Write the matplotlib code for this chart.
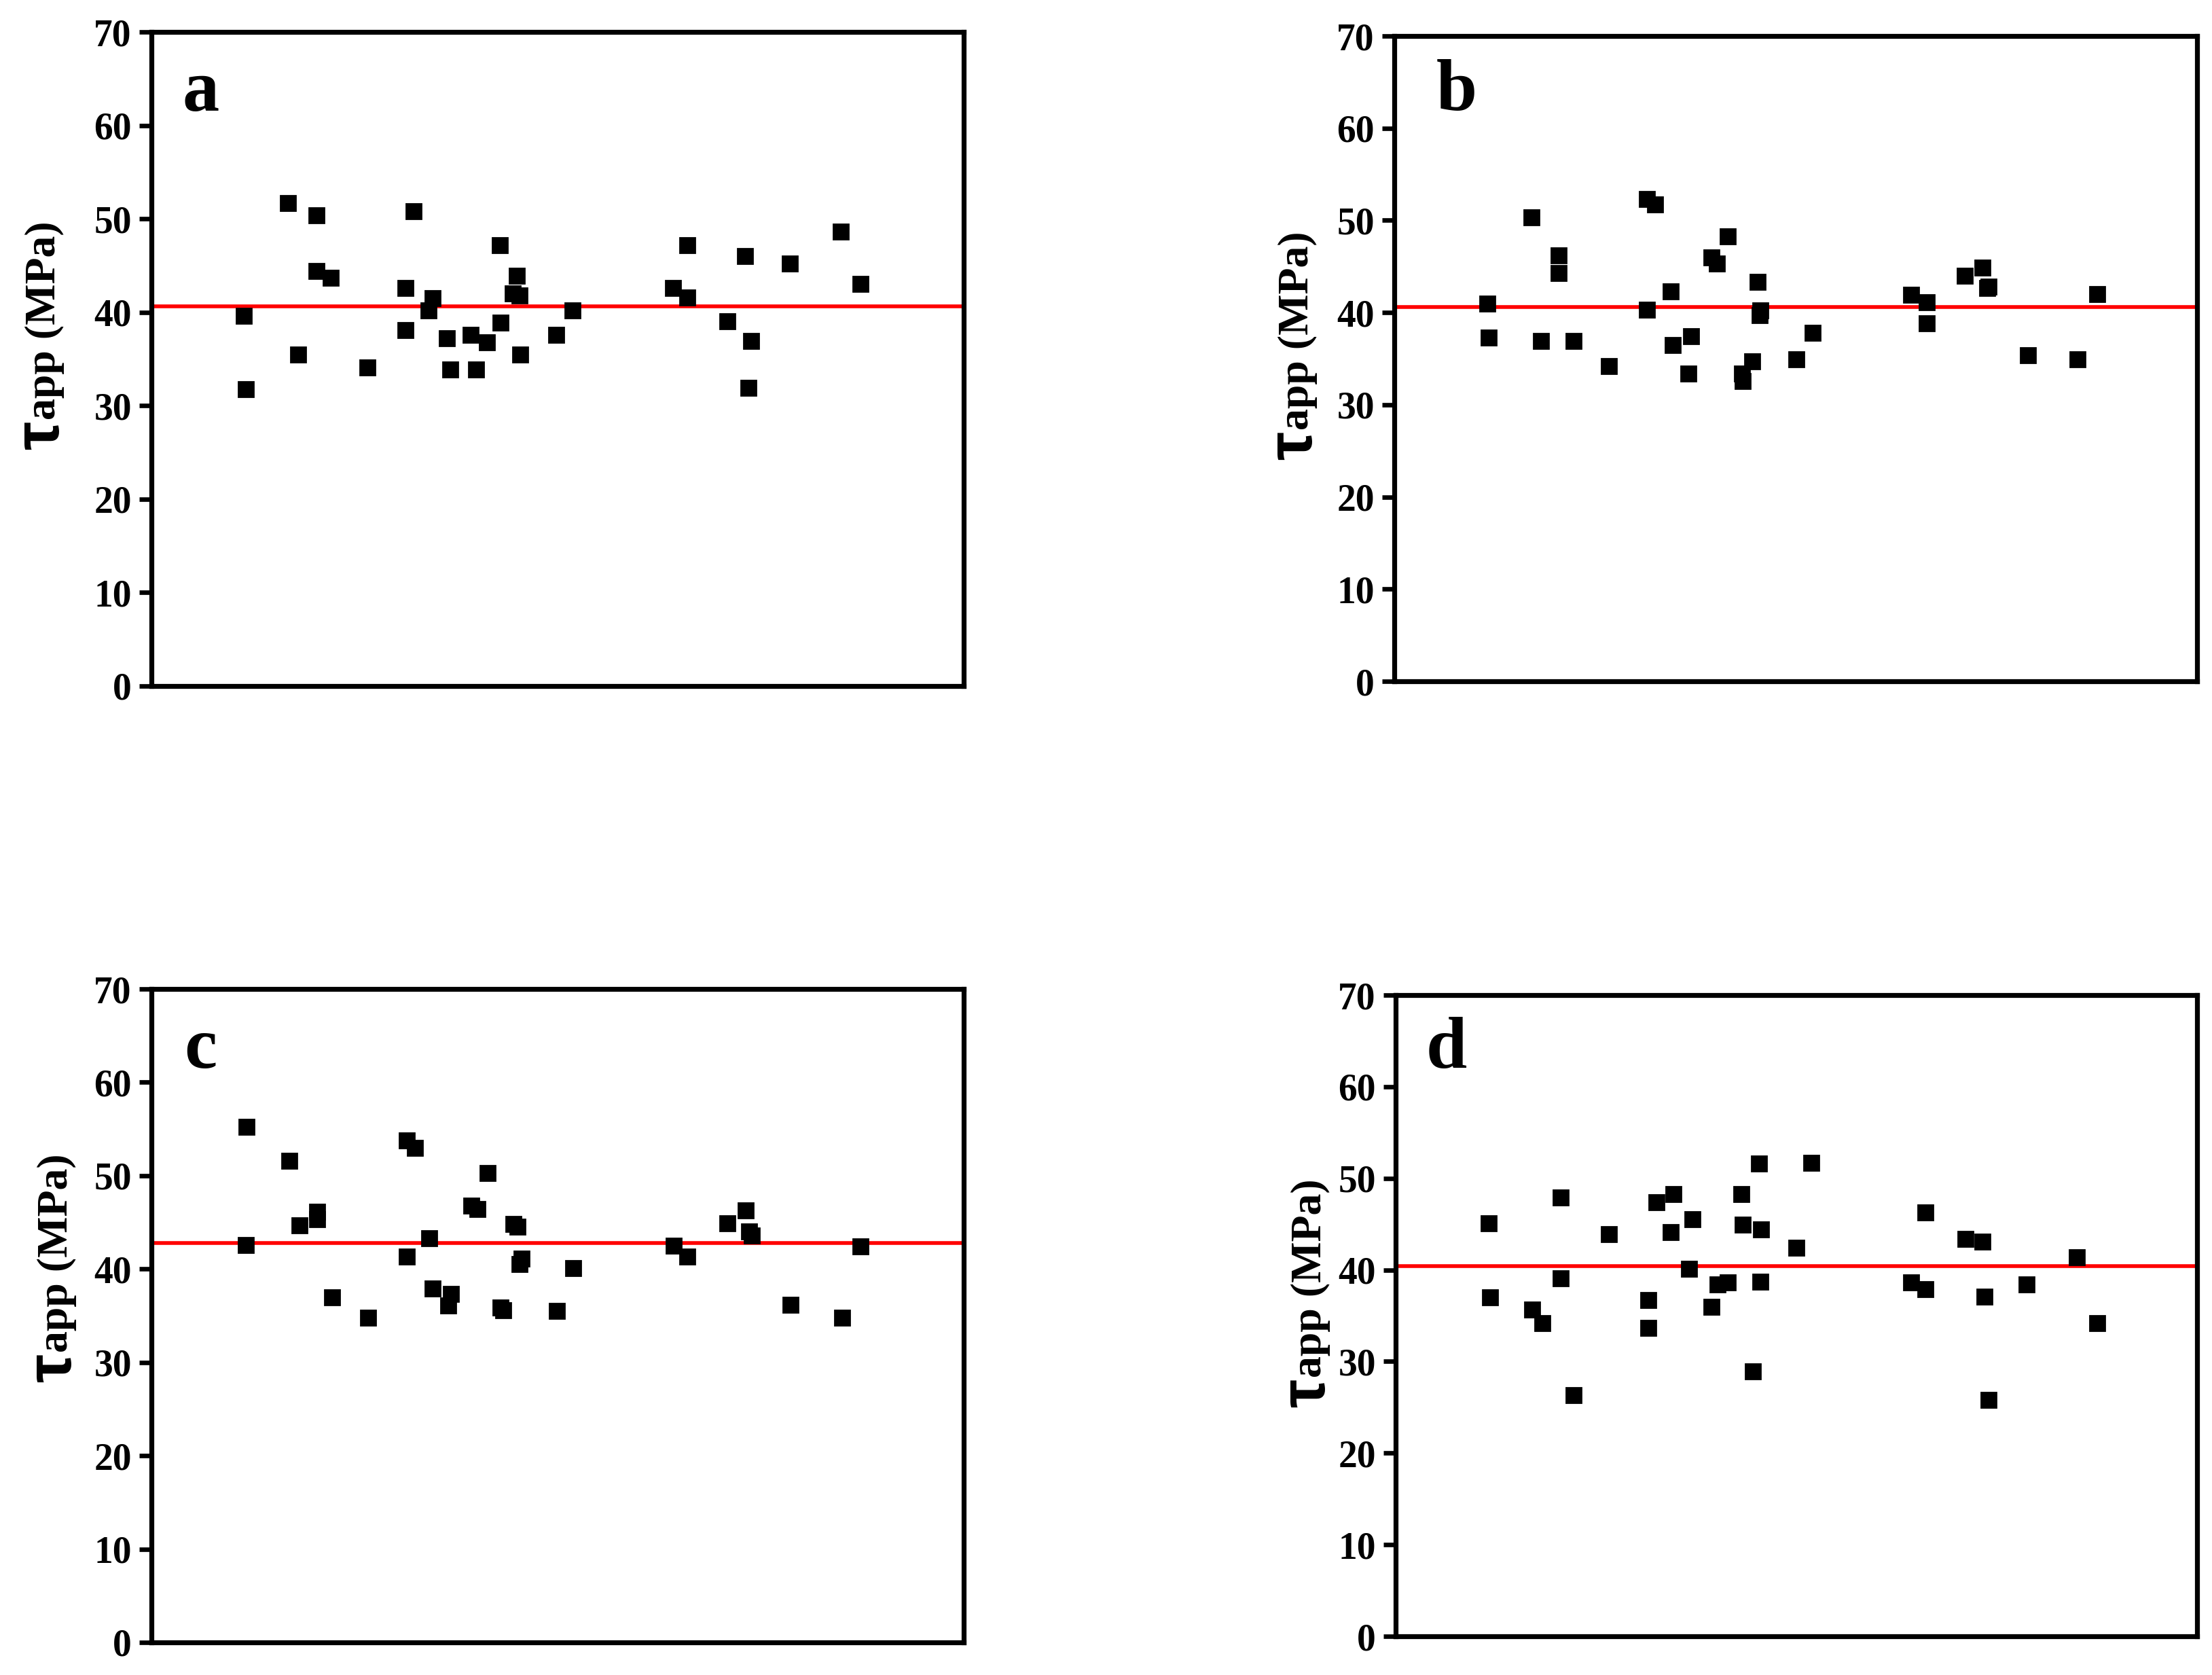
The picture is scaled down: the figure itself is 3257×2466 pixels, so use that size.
import matplotlib
matplotlib.use("Agg")
import matplotlib.pyplot as plt

plt.rcParams["font.family"] = ["Liberation Serif", "DejaVu Serif"]
plt.rcParams["font.weight"] = "bold"

W, H, DPI = 3257, 2466, 200

# x has no scale in the original: positions are read as % of the axis width
xa = [11.4, 11.6, 16.8, 18.1, 20.3, 20.3, 22.1, 26.6, 31.3, 31.3, 32.3, 34.1,
      34.6, 36.4, 36.8, 39.3, 40.0, 41.3, 42.9, 43.0, 44.5, 45.0, 45.3, 45.4,
      49.8, 51.8, 64.2, 66.0, 66.0, 70.9, 73.1, 73.8, 73.5, 78.6, 84.9, 87.3]
ya = [39.6, 31.8, 51.7, 35.5, 50.4, 44.4, 43.7, 34.1, 42.6, 38.1, 50.8, 40.2,
      41.5, 37.2, 33.9, 37.6, 33.9, 36.8, 47.2, 38.9, 42.0, 43.9, 41.8, 35.5,
      37.6, 40.2, 42.6, 47.2, 41.6, 39.0, 46.0, 36.9, 31.9, 45.2, 48.6, 43.0]
mean_a = 40.6

xb = [11.6, 11.8, 17.1, 18.3, 20.5, 20.5, 22.3, 26.7, 31.5, 32.5, 31.5, 34.4,
      34.7, 37.0, 36.6, 39.5, 40.2, 41.5, 43.3, 43.4, 44.6, 45.3, 45.6, 45.5,
      50.1, 52.1, 64.4, 66.3, 66.3, 71.1, 73.3, 73.9, 74.0, 78.9, 85.1, 87.6]
yb = [41.0, 37.3, 50.3, 36.9, 46.2, 44.3, 36.9, 34.2, 52.3, 51.7, 40.3, 42.3,
      36.5, 37.4, 33.4, 46.0, 45.3, 48.3, 33.4, 32.6, 34.7, 43.3, 40.2, 39.7,
      34.9, 37.8, 41.9, 41.1, 38.8, 44.0, 44.9, 42.7, 42.8, 35.4, 34.9, 42.0]
mean_b = 40.6

xc = [11.7, 11.6, 17.0, 18.2, 20.4, 20.4, 22.2, 26.7, 31.4, 32.4, 31.4, 34.2,
      34.6, 36.9, 36.5, 39.4, 40.1, 41.4, 43.0, 43.3, 44.6, 45.1, 45.3, 45.6,
      49.9, 51.9, 64.3, 66.0, 70.9, 73.2, 73.6, 73.9, 78.7, 85.0, 87.3]
yc = [55.2, 42.6, 51.6, 44.7, 46.1, 45.3, 37.0, 34.8, 53.8, 53.0, 41.3, 43.3,
      37.9, 37.3, 36.1, 46.8, 46.4, 50.3, 35.9, 35.6, 44.8, 44.5, 40.5, 41.1,
      35.5, 40.1, 42.5, 41.3, 44.9, 46.3, 44.0, 43.6, 36.2, 34.8, 42.4]
mean_c = 42.8

xd = [11.6, 11.8, 17.0, 18.3, 20.6, 20.6, 22.2, 26.6, 32.5, 31.5, 31.5, 34.3,
      34.7, 36.6, 37.0, 39.4, 40.2, 41.4, 43.1, 43.3, 44.6, 45.3, 45.6, 45.5,
      50.0, 51.9, 64.3, 66.1, 66.1, 71.1, 73.2, 73.5, 74.0, 78.7, 85.0, 87.5]
yd = [45.1, 37.0, 35.7, 34.2, 47.9, 39.1, 26.3, 43.9, 47.4, 36.7, 33.7, 44.1,
      48.3, 40.1, 45.5, 36.0, 38.4, 38.6, 48.3, 44.9, 28.9, 51.6, 44.4, 38.7,
      42.4, 51.7, 38.6, 46.3, 37.9, 43.4, 43.1, 37.1, 25.8, 38.4, 41.4, 34.2]
mean_d = 40.4

letters = ["a", "b", "c", "d"]
yticks = [0, 10, 20, 30, 40, 50, 60, 70]

# axes boxes in pixels: left, top, right, bottom
boxes = [(223, 47, 1419, 1010), (2053, 53, 3235, 1003),
         (223, 1456, 1419, 2418), (2055, 1465, 3235, 2409)]
# y label: baseline x and start y (pixels)
label_pos = [(86, 662), (1931, 677), (104, 2035), (1950, 2072)]
letter_pos = [(0.038, 0.88), (0.052, 0.885), (0.040, 0.879), (0.038, 0.887)]

fig = plt.figure(figsize=(W / DPI, H / DPI), dpi=DPI)

panels = [(xa, ya, mean_a), (xb, yb, mean_b), (xc, yc, mean_c), (xd, yd, mean_d)]
for i, (x, y, m) in enumerate(panels):
    l, t, r, b = boxes[i]
    ax = fig.add_axes([l / W, 1 - b / H, (r - l) / W, (b - t) / H])
    ax.plot(x, y, "s", color="black", markersize=7.6, zorder=3)
    ax.axhline(m, color="#ff0000", linewidth=2.0, zorder=2)
    ax.set_xlim(0, 100)
    ax.set_ylim(0, 70)
    ax.set_yticks(yticks)
    ax.set_xticks([])
    for s in ax.spines.values():
        s.set_linewidth(2.6)
    ax.tick_params(axis="y", direction="out", length=6.5, width=2.4,
                   labelsize=20, pad=4)
    for lab in ax.get_yticklabels():
        lab.set_fontweight("bold")
    ax.text(letter_pos[i][0], letter_pos[i][1], letters[i], transform=ax.transAxes,
            fontsize=39, fontweight="bold", ha="left", va="baseline")

    bx, by = label_pos[i]
    tau = fig.text(bx / W, 1 - by / H, "τ", rotation=90, rotation_mode="anchor",
                   ha="left", va="baseline", fontsize=34, fontweight="bold",
                   family=["Liberation Sans", "DejaVu Sans"])
    fig.canvas.draw()
    ext = tau.get_window_extent()
    fig.text((bx - 5) / W, (ext.y1 + 2) / H, "app (MPa)", rotation=90,
             rotation_mode="anchor", ha="left", va="baseline", fontsize=23,
             fontweight="bold")

fig.savefig("out.png", dpi=DPI)
